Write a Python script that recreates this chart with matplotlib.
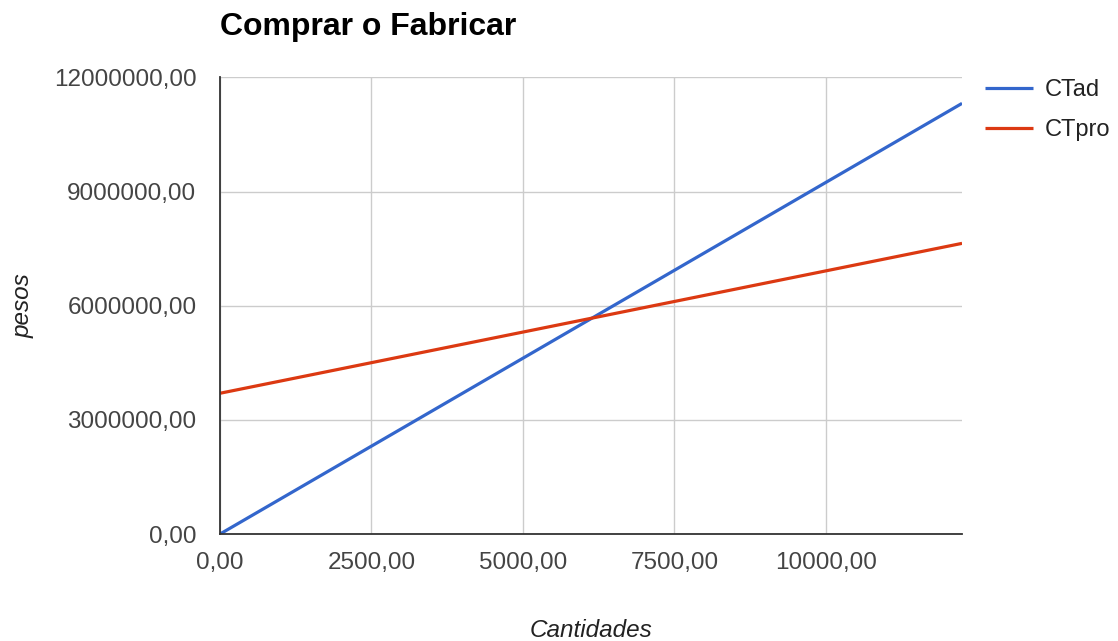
import matplotlib.pyplot as plt
from matplotlib.ticker import FuncFormatter

plt.rcParams['font.family'] = ['Liberation Sans', 'DejaVu Sans']

# quantities and total costs (pesos)
cantidades = [0, 12250]
ct_ad = [0, 11320000]
ct_pro = [3700000, 7640000]

x_ticks = [0, 2500, 5000, 7500, 10000]
y_ticks = [0, 3000000, 6000000, 9000000, 12000000]


def coma(v, pos):
    return f"{v:.2f}".replace('.', ',')


fig = plt.figure(figsize=(11.18, 6.41), dpi=100)
ax = fig.add_axes([0.1968, 0.1669, 0.6637, 0.7122])

ax.plot(cantidades, ct_ad, color='#3366cc', lw=2.3, label='CTad', solid_capstyle='butt')
ax.plot(cantidades, ct_pro, color='#dc3912', lw=2.3, label='CTpro', solid_capstyle='butt')

ax.set_xlim(0, 12250)
ax.set_ylim(0, 12000000)
ax.set_xticks(x_ticks)
ax.set_yticks(y_ticks)
ax.xaxis.set_major_formatter(FuncFormatter(coma))
ax.yaxis.set_major_formatter(FuncFormatter(coma))
ax.tick_params(length=0, labelsize=17.5, labelcolor='#444444')
ax.tick_params(axis='x', pad=13)
ax.tick_params(axis='y', pad=17)

ax.grid(True, color='#cccccc', lw=1)
ax.set_axisbelow(True)
for s in ['top', 'right']:
    ax.spines[s].set_visible(False)
for s in ['left', 'bottom']:
    ax.spines[s].set_color('#333333')
    ax.spines[s].set_linewidth(1.3)

ax.set_xlabel('Cantidades', fontsize=17.5, style='italic', color='#222222', labelpad=32)
ax.set_ylabel('pesos', fontsize=17.5, style='italic', color='#222222')
ax.yaxis.set_label_coords(-0.25, 0.5)

fig.text(0.1968, 0.958, 'Comprar o Fabricar', fontsize=23, fontweight='bold',
         va='center', ha='left', color='#000000')

ax.legend(loc='upper left', bbox_to_anchor=(1.031, 0.996), frameon=False,
          borderaxespad=0, borderpad=0,
          fontsize=17, handlelength=2.05, handletextpad=0.5, labelspacing=0.75,
          labelcolor='#222222')

fig.savefig('out.png', dpi=100)
